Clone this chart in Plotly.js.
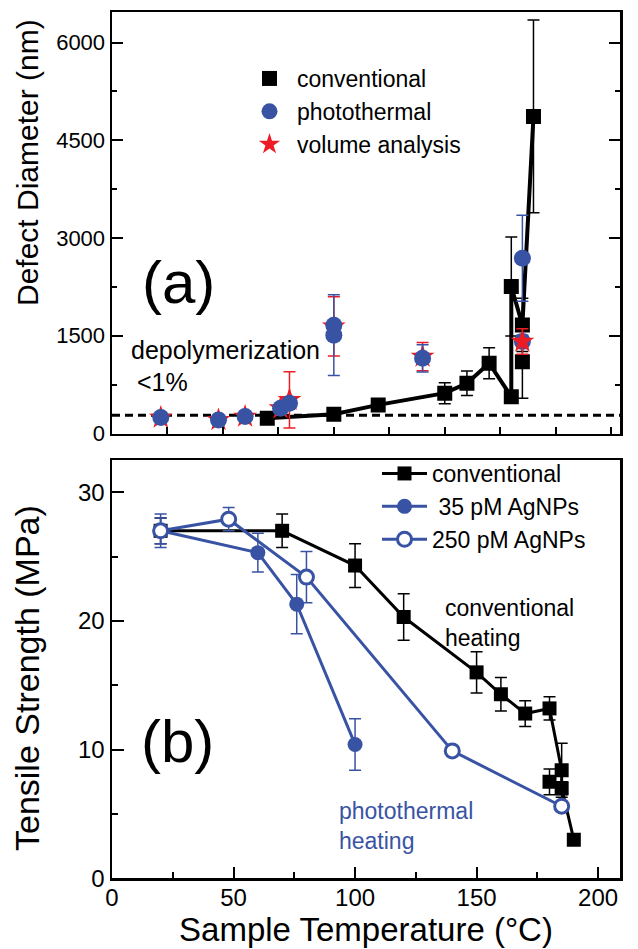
<!DOCTYPE html>
<html><head><meta charset="utf-8">
<script src="https://cdn.plot.ly/plotly-3.0.1.min.js"></script>
<style>html,body{margin:0;padding:0;background:#fff}#chart{width:638px;height:949px}</style>
</head><body><div id="chart"></div>
<script>
// ---------- Panel (a): defect diameter (nm) vs temperature (°C) ----------
const convA_T   = [70, 100, 120, 150, 160, 170, 180, 180, 185, 190];
const convA_D   = [235, 296, 439, 619, 772, 1079, 566, 2256, 1667, 4867];
const convA_err = [40, 40, 60, 161, 189, 238, 40, 760, 410, 1480];
const convA_xT   = [185];
const convA_xD   = [1103];
const convA_xErr = [560];

const photoA_T   = [22, 48, 60, 76, 80, 100, 100, 140, 185, 185];
const photoA_D   = [244, 207, 260, 388, 465, 1660, 1510, 1154, 2690, 1411];
const photoA_err = [30, 30, 30, 40, 60, 0, 620, 210, 660, 100];

const volA_T   = [22, 48, 60, 76, 80, 100, 140];
const volA_D   = [244, 207, 260, 388, 516, 1646, 1180];
const volA_err = [0, 0, 0, 0, 430, 455, 218];
const volA_fT   = [185];
const volA_fD   = [1411];
const volA_fErr = [195];

const depolyThreshold = [280];

// ---------- Panel (b): tensile strength (MPa) vs temperature (°C) ----------
const convB_T   = [20, 70, 100, 120, 150, 160, 170, 180, 185, 185, 190];
const convB_S   = [27.0, 27.0, 24.3, 20.3, 16.0, 14.3, 12.8, 13.2, 8.4, 7.0, 3.0];
const convB_err = [1.0, 1.3, 1.7, 1.8, 1.6, 1.3, 1.0, 0.9, 2.1, 0.5, 0];
const convB_xT   = [180];
const convB_xS   = [7.5];
const convB_xErr = [1.0];

const p35_T   = [20, 60, 76, 100];
const p35_S   = [27.0, 25.3, 21.3, 10.4];
const p35_err = [1.3, 1.5, 2.3, 2.0];

const p250_T   = [20, 48, 80, 140, 185];
const p250_S   = [27.0, 27.9, 23.4, 9.9, 5.6];
const p250_err = [1.0, 0.9, 2.0, 0.3, 0.3];

const legendA = ['conventional', 'photothermal', 'volume analysis'];
const legendB = ['conventional', ' 35 pM AgNPs', '250 pM AgNPs'];

const BLUE = '#3953a4', RED = '#ed1c24', BLACK = '#000000';
const FONT = 'Liberation Sans, Arial, Helvetica, sans-serif';

function eb(arr, color) {
  return {type: 'data', array: arr, visible: true, color: color, thickness: 1.5, width: 6};
}

const traces = [
  // panel (a)
  {x: convA_T, y: convA_D, xaxis: 'x', yaxis: 'y', mode: 'lines', name: legendA[0],
   showlegend: false, line: {color: BLACK, width: 4}},
  {x: convA_T, y: convA_D, xaxis: 'x', yaxis: 'y', mode: 'markers', name: legendA[0],
   legend: 'legend', legendrank: 1,
   marker: {symbol: 'square', size: 15, color: BLACK}, error_y: eb(convA_err, BLACK)},
  {x: convA_xT, y: convA_xD, xaxis: 'x', yaxis: 'y', mode: 'markers', name: legendA[0],
   showlegend: false, marker: {symbol: 'square', size: 15, color: BLACK},
   error_y: eb(convA_xErr, BLACK)},
  {x: volA_T, y: volA_D, xaxis: 'x', yaxis: 'y', mode: 'markers', name: legendA[2],
   legend: 'legend', legendrank: 3,
   marker: {symbol: 'star', size: 18, color: RED}, error_y: eb(volA_err, RED)},
  {x: photoA_T, y: photoA_D, xaxis: 'x', yaxis: 'y', mode: 'markers', name: legendA[1],
   legend: 'legend', legendrank: 2,
   marker: {symbol: 'circle', size: 17, color: BLUE}, error_y: eb(photoA_err, BLUE)},
  {x: volA_fT, y: volA_fD, xaxis: 'x', yaxis: 'y', mode: 'markers', name: legendA[2],
   showlegend: false, marker: {symbol: 'star', size: 18, color: RED}, error_y: eb(volA_fErr, RED)},
  // panel (b)
  {x: convB_T, y: convB_S, xaxis: 'x2', yaxis: 'y2', mode: 'lines+markers', name: legendB[0],
   legend: 'legend2', legendrank: 1,
   line: {color: BLACK, width: 3}, marker: {symbol: 'square', size: 14, color: BLACK},
   error_y: eb(convB_err, BLACK)},
  {x: convB_xT, y: convB_xS, xaxis: 'x2', yaxis: 'y2', mode: 'markers', name: legendB[0],
   showlegend: false, marker: {symbol: 'square', size: 14, color: BLACK},
   error_y: eb(convB_xErr, BLACK)},
  {x: p35_T, y: p35_S, xaxis: 'x2', yaxis: 'y2', mode: 'lines+markers', name: legendB[1],
   legend: 'legend2', legendrank: 2,
   line: {color: BLUE, width: 3}, marker: {symbol: 'circle', size: 15, color: BLUE},
   error_y: eb(p35_err, BLUE)},
  {x: p250_T, y: p250_S, xaxis: 'x2', yaxis: 'y2', mode: 'lines+markers', name: legendB[2],
   legend: 'legend2', legendrank: 3,
   line: {color: BLUE, width: 3},
   marker: {symbol: 'circle', size: 14, color: '#ffffff', line: {color: BLUE, width: 3}},
   error_y: eb(p250_err, BLUE)}
];

const XDOM = [112/638, 620/638];
const axBase = {showgrid: false, zeroline: false, showline: true, linecolor: BLACK, linewidth: 2.5,
  ticks: 'inside', tickcolor: BLACK, tickwidth: 2, tickfont: {family: FONT, size: 22, color: BLACK}};

const layout = {
  width: 638, height: 949,
  margin: {l: 0, r: 0, t: 0, b: 0},
  paper_bgcolor: '#ffffff', plot_bgcolor: '#ffffff',
  font: {family: FONT, color: BLACK},
  xaxis: Object.assign({}, axBase, {domain: XDOM, anchor: 'y', range: [0, 229], tick0: 0, dtick: 25,
    ticklen: 7, showticklabels: false, mirror: true}),
  yaxis: Object.assign({}, axBase, {domain: [1 - 433.5/949, 1 - 12/949], anchor: 'x', range: [0, 6470],
    tick0: 0, dtick: 1500, ticklen: 11, mirror: 'ticks',
    minor: {ticks: 'inside', dtick: 750, ticklen: 5, tickwidth: 2, tickcolor: BLACK}}),
  xaxis2: Object.assign({}, axBase, {domain: XDOM, anchor: 'y2', range: [0, 209], tick0: 0, dtick: 50,
    ticklen: 11, mirror: true, tickfont: {family: FONT, size: 24, color: BLACK},
    ticklabelstandoff: -4,
    minor: {ticks: 'inside', dtick: 25, ticklen: 6, tickwidth: 2, tickcolor: BLACK},
    title: {text: 'Sample Temperature (\u00b0C)', font: {family: FONT, size: 33, color: BLACK}, standoff: 9}}),
  yaxis2: Object.assign({}, axBase, {domain: [1 - 878.3/949, 1 - 460/949], anchor: 'x2', range: [0, 32.5],
    tick0: 0, dtick: 10, ticklen: 12, mirror: true, tickfont: {family: FONT, size: 24, color: BLACK},
    minor: {ticks: 'inside', dtick: 5, ticklen: 6, tickwidth: 2, tickcolor: BLACK}}),
  legend: {x: 242/638, y: 1 - 57/949, xanchor: 'left', yanchor: 'top', bgcolor: 'rgba(0,0,0,0)',
    borderwidth: 0, itemwidth: 45, font: {family: FONT, size: 23, color: BLACK}, traceorder: 'normal'},
  legend2: {x: 377/638, y: 1 - 452/949, xanchor: 'left', yanchor: 'top', bgcolor: 'rgba(0,0,0,0)',
    borderwidth: 0, itemwidth: 45, font: {family: FONT, size: 23, color: BLACK}, traceorder: 'normal'},
  shapes: [
    {type: 'line', xref: 'x domain', x0: 0, x1: 1, yref: 'y', y0: depolyThreshold[0], y1: depolyThreshold[0],
     line: {color: BLACK, width: 3, dash: '8px,5px'}, layer: 'below'}
  ],
  annotations: [
    {text: 'Defect Diameter (nm)', xref: 'paper', yref: 'paper', x: 27/638, y: 1 - 163/949,
     xanchor: 'center', yanchor: 'middle',
     textangle: -90, showarrow: false, font: {family: FONT, size: 30, color: BLACK}},
    {text: 'Tensile Strength (MPa)', xref: 'paper', yref: 'paper', x: 27/638, y: 1 - 678/949,
     xanchor: 'center', yanchor: 'middle',
     textangle: -90, showarrow: false, font: {family: FONT, size: 34, color: BLACK}},
    {text: '(a)', xref: 'x', yref: 'y', x: 30, y: 2312, showarrow: false,
     font: {family: FONT, size: 60, color: BLACK}},
    {text: 'depolymerization', xref: 'x', yref: 'y', x: 7.5, y: 1284, xanchor: 'left', showarrow: false,
     font: {family: FONT, size: 25, color: BLACK}},
    {text: '<1%', xref: 'x', yref: 'y', x: 10.5, y: 792, xanchor: 'left', showarrow: false,
     font: {family: FONT, size: 25, color: BLACK}},
    {text: '(b)', xref: 'x2', yref: 'y2', x: 27, y: 10.6, showarrow: false,
     font: {family: FONT, size: 60, color: BLACK}},
    {text: 'conventional<br>heating', xref: 'x2', yref: 'y2', x: 136, y: 19.8, xanchor: 'left', align: 'left',
     showarrow: false, font: {family: FONT, size: 23, color: BLACK}},
    {text: 'photothermal<br>heating', xref: 'x2', yref: 'y2', x: 92.5, y: 4.1, xanchor: 'left', align: 'left',
     showarrow: false, font: {family: FONT, size: 23, color: BLUE}}
  ]
};

Plotly.newPlot('chart', traces, layout, {displayModeBar: false, staticPlot: true});
</script>
</body></html>
